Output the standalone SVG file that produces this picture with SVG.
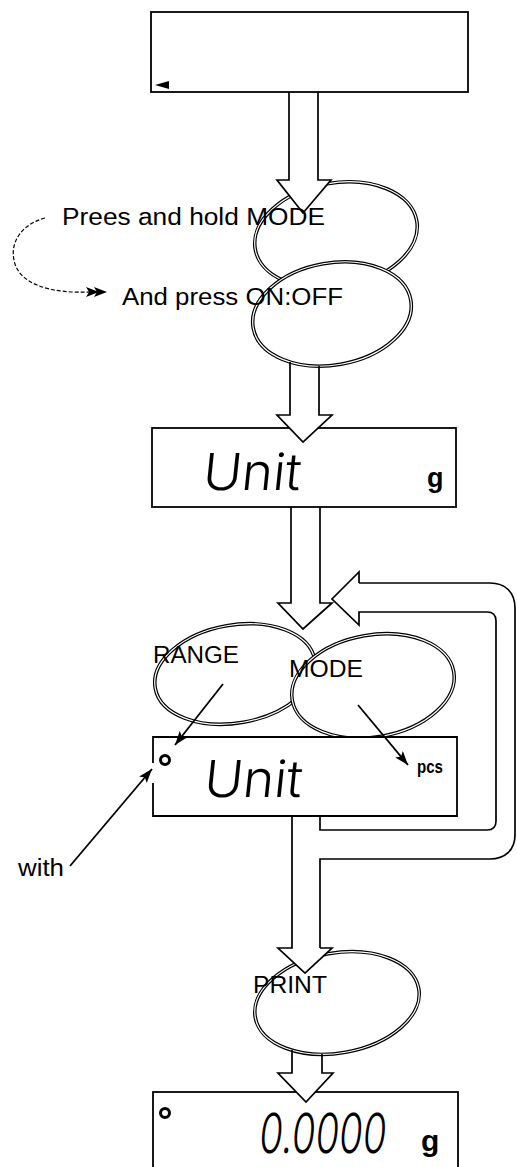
<svg xmlns="http://www.w3.org/2000/svg" width="517" height="1167" viewBox="0 0 517 1167">
<defs>
<style>
.box{fill:#fff;stroke:#000;stroke-width:1.8}
.bl{fill:none;stroke:#000;stroke-width:1.8}
.ov{fill:#fff;stroke:#000;stroke-width:3.6}
.ovi{fill:none;stroke:#fff;stroke-width:1.2}
.hf{fill:#fff;stroke:none}
.ao{fill:none;stroke:#000;stroke-width:1.7;stroke-linejoin:miter}
.ln{fill:none;stroke:#000;stroke-width:1.8}
.lbl{font-family:"Liberation Sans",Arial,sans-serif;font-size:23px;fill:#000}
.seg{font-family:Inter,"DejaVu Sans",sans-serif;font-weight:300;fill:#000}
.unit{font-family:"Liberation Sans",Arial,sans-serif;font-weight:bold;fill:#000}
.dot{fill:none;stroke:#000;stroke-width:3}
</style>
<marker id="ah" viewBox="0 0 14 10" refX="14" refY="5" markerWidth="14" markerHeight="10" markerUnits="userSpaceOnUse" orient="auto">
<path d="M0,0 L14,5 L0,10 L3,5 z" fill="#000"/>
</marker>
</defs>
<rect width="517" height="1167" fill="#fff"/>

<g id="display-blank">
<rect class="box" x="151" y="12" width="317" height="80"/>
<polygon points="155,85 169,81 169,89" fill="#000"/>
</g>

<g id="key-mode-hold" transform="rotate(-10 336 235)">
<ellipse class="ov" cx="336" cy="235" rx="82" ry="52"/>
<ellipse class="ovi" cx="336" cy="235" rx="82" ry="52"/>
</g>

<g id="key-onoff" transform="rotate(-10 332 314)">
<ellipse class="ov" cx="332" cy="314" rx="80" ry="51"/>
<ellipse class="ovi" cx="332" cy="314" rx="80" ry="51"/>
</g>

<g id="display-unit-1">
<rect class="box" x="152" y="428" width="304" height="79"/>
<text class="seg" x="202" y="490" font-size="51" textLength="98" lengthAdjust="spacingAndGlyphs" transform="skewX(-6) translate(51,0)">Unit</text>
<text class="unit" x="427" y="487" font-size="27">g</text>
</g>

<g id="key-range" transform="rotate(-10 235 674)">
<ellipse class="ov" cx="235" cy="674" rx="81" ry="49"/>
<ellipse class="ovi" cx="235" cy="674" rx="81" ry="49"/>
</g>

<g id="key-mode" transform="rotate(-10 373 686)">
<ellipse class="ov" cx="373" cy="686" rx="82" ry="51"/>
<ellipse class="ovi" cx="373" cy="686" rx="82" ry="51"/>
</g>

<g id="display-unit-2">
<rect x="153" y="737" width="304" height="79" fill="#fff"/>
<path class="bl" d="M153,763 V737 H457 V816 H153 V783"/>
<circle class="dot" cx="165" cy="760" r="4.5"/>
<text class="seg" x="203" y="797" font-size="51" textLength="98" lengthAdjust="spacingAndGlyphs" transform="skewX(-6) translate(83.5,0)">Unit</text>
<text class="unit" x="417" y="773" font-size="19" textLength="26" lengthAdjust="spacingAndGlyphs">pcs</text>
</g>

<g id="key-print" transform="rotate(-10 337 1003)">
<ellipse class="ov" cx="337" cy="1003" rx="83" ry="50"/>
<ellipse class="ovi" cx="337" cy="1003" rx="83" ry="50"/>
</g>

<g id="display-zero">
<rect class="box" x="153" y="1092" width="305" height="90"/>
<circle class="dot" cx="165" cy="1113" r="4.5"/>
<text class="seg" x="258" y="1153" font-size="55" textLength="127" lengthAdjust="spacingAndGlyphs" transform="skewX(-6) translate(121,0)">0.0000</text>
<text class="unit" x="421" y="1151" font-size="30">g</text>
</g>

<g id="connectors">
<polygon class="hf" points="277,180 331,180 303,213"/>
<path class="ao" d="M289,92 V180 H277 L303,213 L331,180 H318 V92"/>
<polygon class="hf" points="277,415 332,415 303,442"/>
<path class="ao" d="M290,362 V415 H277 L303,442 L332,415 H319 V366"/>
<polygon class="hf" points="278,603 332,603 303,629"/>
<path class="ao" d="M291,507 V603 H278 L303,629 L332,603 H320 V507"/>
<polygon class="hf" points="359,572 332,599 359,625"/>
<path class="ao" d="M359,583 V572 L332,599 L359,625 V612 H487 Q496,612 496,621 V821 Q496,830 487,830 H320 V816"/>
<path class="ao" d="M359,583 H490 C505,583 515,592 515,608 V835 C515,850 505,859 490,859 H320 V948"/>
<polygon class="hf" points="278,948 332,948 305,973"/>
<path class="ao" d="M292,816 V948 H278 L305,973 L332,948 H320"/>
<polygon class="hf" points="278,1073 333,1073 306,1102"/>
<path class="ao" d="M292,1050 V1073 H278 L306,1102 L333,1073 H322 V1054"/>
<line class="ln" x1="223" y1="684" x2="175" y2="745" marker-end="url(#ah)"/>
<line class="ln" x1="358" y1="705" x2="408" y2="765" marker-end="url(#ah)"/>
<line class="ln" x1="70" y1="866" x2="152" y2="769" marker-end="url(#ah)"/>
<path d="M45,218 C22,224 10,242 14,260 C18,282 45,294 92,292" fill="none" stroke="#000" stroke-width="1.2" stroke-dasharray="4,2"/>
<polygon points="86,287 99,292 86,297 89,292" fill="#000"/>
<polygon points="94,287 107,292 94,297 97,292" fill="#000"/>
</g>

<g id="labels">
<text class="lbl" x="62" y="225" textLength="263" lengthAdjust="spacingAndGlyphs">Prees and hold MODE</text>
<text class="lbl" x="122" y="305" textLength="221" lengthAdjust="spacingAndGlyphs">And press ON:OFF</text>
<text class="lbl" x="153" y="663" textLength="86" lengthAdjust="spacingAndGlyphs">RANGE</text>
<text class="lbl" x="289" y="677" textLength="74" lengthAdjust="spacingAndGlyphs">MODE</text>
<text class="lbl" x="18" y="876" textLength="46" lengthAdjust="spacingAndGlyphs">with</text>
<text class="lbl" x="253" y="993" textLength="74" lengthAdjust="spacingAndGlyphs">PRINT</text>
</g>
</svg>
